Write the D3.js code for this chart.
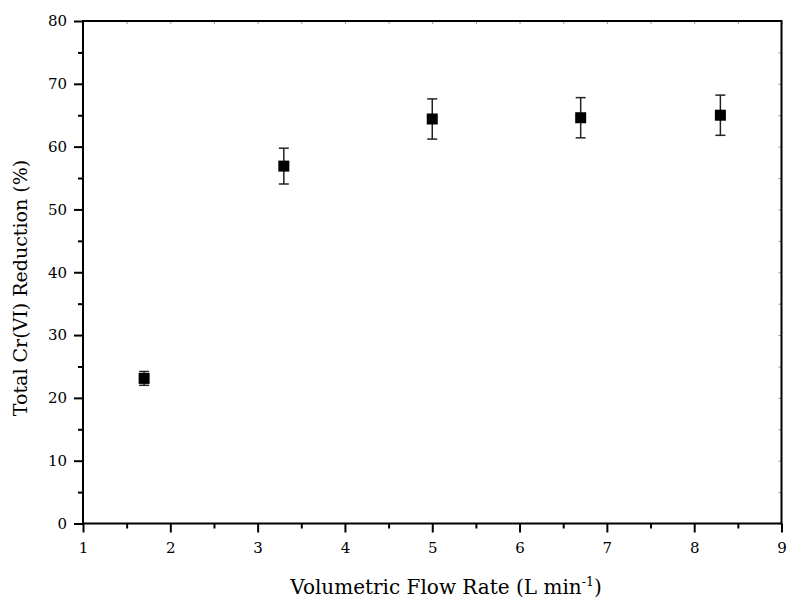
<!DOCTYPE html>
<html>
<head>
<meta charset="utf-8">
<script src="https://cdn.jsdelivr.net/npm/d3@7"></script>
<style>
  body { margin: 0; background: #fff; }
</style>
</head>
<body>
<div id="chart"></div>
<script>
// chart size and plot margins
const width = 787;
const height = 599;
const margin = {left: 83, right: 5, top: 21, bottom: 75.5};
const serif = "'DejaVu Serif', serif";

// data
const flowRates = [1.7, 3.3, 5.0, 6.7, 8.3];
const reduction = [23.1, 56.9, 64.4, 64.6, 65.0];
const errors = [1.1, 2.85, 3.2, 3.2, 3.2];
const xTicks = [1, 2, 3, 4, 5, 6, 7, 8, 9];
const yTicks = [0, 10, 20, 30, 40, 50, 60, 70, 80];

const svg = d3.select("#chart")
  .append("svg")
  .attr("width", width)
  .attr("height", height);

const x = d3.scaleLinear()
  .domain([1, 9])
  .range([margin.left, width - margin.right - 0.5]);

const y = d3.scaleLinear()
  .domain([0, 80])
  .range([height - margin.bottom, margin.top]);

const x0 = x.range()[0], x1 = x.range()[1];
const y0 = y.range()[0], y1 = y.range()[1];

// minor ticks
const xMinor = d3.range(1.5, 9, 1);
const yMinor = d3.range(5, 80, 10);

// bottom axis
svg.append("g")
  .attr("transform", `translate(0,${y0})`)
  .call(d3.axisBottom(x).tickValues(xTicks).tickSize(9).tickPadding(10).tickFormat(d3.format("d")))
  .call(g => g.select(".domain").remove())
  .call(g => g.selectAll("line").attr("stroke-width", 2))
  .call(g => g.selectAll("text").attr("font-size", 15).style("font-family", serif).attr("fill", "#000"));

svg.append("g")
  .attr("transform", `translate(0,${y0})`)
  .call(d3.axisBottom(x).tickValues(xMinor).tickSize(5).tickFormat(""))
  .call(g => g.select(".domain").remove())
  .call(g => g.selectAll("line").attr("stroke-width", 2));

// left axis
svg.append("g")
  .attr("transform", `translate(${x0},0)`)
  .call(d3.axisLeft(y).tickValues(yTicks).tickSize(9).tickPadding(7))
  .call(g => g.select(".domain").remove())
  .call(g => g.selectAll("line").attr("stroke-width", 2))
  .call(g => g.selectAll("text").attr("font-size", 15).style("font-family", serif).attr("fill", "#000"));

svg.append("g")
  .attr("transform", `translate(${x0},0)`)
  .call(d3.axisLeft(y).tickValues(yMinor).tickSize(5).tickFormat(""))
  .call(g => g.select(".domain").remove())
  .call(g => g.selectAll("line").attr("stroke-width", 2));

// top and right mirror ticks (small, inward)
svg.append("g")
  .attr("transform", `translate(0,${y1})`)
  .call(d3.axisBottom(x).tickValues(xTicks.concat(xMinor)).tickSize(3).tickFormat(""))
  .call(g => g.select(".domain").remove())
  .call(g => g.selectAll("line").attr("stroke", "#999"));

svg.append("g")
  .attr("transform", `translate(${x1},0)`)
  .call(d3.axisLeft(y).tickValues(yTicks.concat(yMinor)).tickSize(3).tickFormat(""))
  .call(g => g.select(".domain").remove())
  .call(g => g.selectAll("line").attr("stroke", "#999"));

// frame
svg.append("rect")
  .attr("x", x0)
  .attr("y", y1)
  .attr("width", x1 - x0)
  .attr("height", y0 - y1)
  .attr("fill", "none")
  .attr("stroke", "#000")
  .attr("stroke-width", 2);

// error bars
const pts = flowRates.map((f, i) => ({x: f, y: reduction[i], e: errors[i]}));
const capW = 5;

const eb = svg.append("g").attr("stroke", "#222").attr("stroke-width", 1.5);
eb.selectAll(".stem")
  .data(pts)
  .enter()
  .append("line")
    .attr("x1", d => x(d.x)).attr("x2", d => x(d.x))
    .attr("y1", d => y(d.y + d.e)).attr("y2", d => y(d.y - d.e));
eb.selectAll(".capTop")
  .data(pts)
  .enter()
  .append("line")
    .attr("x1", d => x(d.x) - capW).attr("x2", d => x(d.x) + capW)
    .attr("y1", d => y(d.y + d.e)).attr("y2", d => y(d.y + d.e));
eb.selectAll(".capBot")
  .data(pts)
  .enter()
  .append("line")
    .attr("x1", d => x(d.x) - capW).attr("x2", d => x(d.x) + capW)
    .attr("y1", d => y(d.y - d.e)).attr("y2", d => y(d.y - d.e));

// square markers
const ms = 11;
svg.selectAll(".pt")
  .data(pts)
  .enter()
  .append("rect")
    .attr("x", d => x(d.x) - ms / 2)
    .attr("y", d => y(d.y) - ms / 2)
    .attr("width", ms)
    .attr("height", ms)
    .attr("fill", "#000");

// axis titles
const xt = svg.append("text")
  .attr("x", 446)
  .attr("y", 594)
  .attr("text-anchor", "middle")
  .style("font-family", serif)
  .attr("font-size", 20);
xt.append("tspan").text("Volumetric Flow Rate (L min");
xt.append("tspan").attr("dy", -8).attr("font-size", 12.5).text("-1");
xt.append("tspan").attr("dy", 8).text(")");

svg.append("text")
  .attr("transform", `translate(27,288) rotate(-90)`)
  .attr("text-anchor", "middle")
  .style("font-family", serif)
  .attr("font-size", 19)
  .text("Total Cr(VI) Reduction (%)");
</script>
</body>
</html>
